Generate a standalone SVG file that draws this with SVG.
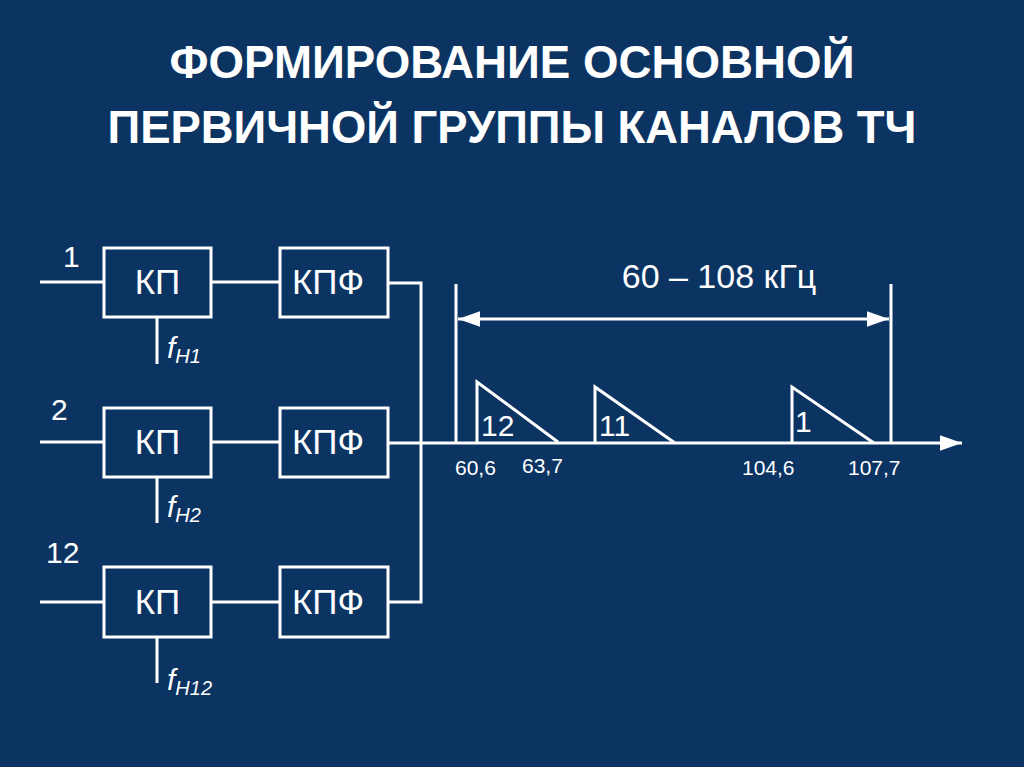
<svg xmlns="http://www.w3.org/2000/svg" width="1024" height="767" viewBox="0 0 1024 767">
<style>
.ln{stroke:#ffffff;stroke-width:3;fill:none}
.box{stroke:#ffffff;stroke-width:3;fill:none}
.t{fill:#ffffff;font-family:"Liberation Sans",Arial,sans-serif}
.title{font-weight:bold;font-size:46px}
.bl{font-size:35px;text-anchor:middle}
.num{font-size:30px}
.sm{font-size:21px}
.it{font-style:italic}
</style>
<defs>
<marker id="ah2" viewBox="0 0 10 10" refX="10" refY="5" markerWidth="22" markerHeight="22" markerUnits="userSpaceOnUse" orient="auto-start-reverse">
<path d="M0,1.5 L10,5 L0,8.5 z" fill="#ffffff"/>
</marker>
</defs>
<rect width="1024" height="767" fill="#0b3463"/>
<g id="title">
<text class="t title" x="512" y="78" text-anchor="middle" textLength="685" lengthAdjust="spacingAndGlyphs">ФОРМИРОВАНИЕ ОСНОВНОЙ</text>
<text class="t title" x="512" y="143" text-anchor="middle" textLength="809" lengthAdjust="spacingAndGlyphs">ПЕРВИЧНОЙ ГРУППЫ КАНАЛОВ ТЧ</text>
</g>
<g id="connectors">
<line class="ln" x1="40" y1="282" x2="104" y2="282"/>
<line class="ln" x1="211" y1="282" x2="280" y2="282"/>
<polyline class="ln" points="388,283 421,283 421,602 388,602"/>
<line class="ln" x1="157" y1="317" x2="157" y2="364"/>
<line class="ln" x1="40" y1="442" x2="104" y2="442"/>
<line class="ln" x1="211" y1="442" x2="280" y2="442"/>
<line class="ln" x1="157" y1="477" x2="157" y2="523"/>
<line class="ln" x1="40" y1="602" x2="104" y2="602"/>
<line class="ln" x1="211" y1="602" x2="280" y2="602"/>
<line class="ln" x1="157" y1="637" x2="157" y2="683"/>
<line class="ln" x1="388" y1="443" x2="962" y2="443" marker-end="url(#ah2)"/>
</g>
<g id="row1">
<rect class="box" x="104" y="248" width="107" height="69"/>
<text class="t bl" x="157.5" y="294">КП</text>
<rect class="box" x="280" y="248" width="108" height="69"/>
<text class="t bl" x="328" y="294">КПФ</text>
<text class="t num" x="63" y="267">1</text>
<text class="t it" x="167" y="358" font-size="30">f<tspan font-size="20" dy="5">H1</tspan></text>
</g>
<g id="row2">
<rect class="box" x="104" y="408" width="107" height="69"/>
<text class="t bl" x="157.5" y="454">КП</text>
<rect class="box" x="280" y="408" width="108" height="69"/>
<text class="t bl" x="328" y="454">КПФ</text>
<text class="t num" x="51" y="420">2</text>
<text class="t it" x="167" y="517" font-size="30">f<tspan font-size="20" dy="5">H2</tspan></text>
</g>
<g id="row3">
<rect class="box" x="104" y="567" width="107" height="70"/>
<text class="t bl" x="157.5" y="614">КП</text>
<rect class="box" x="280" y="567" width="108" height="70"/>
<text class="t bl" x="328" y="614">КПФ</text>
<text class="t num" x="46" y="563">12</text>
<text class="t it" x="167" y="690" font-size="30">f<tspan font-size="20" dy="5">H12</tspan></text>
</g>
<g id="spectrum">
<line class="ln" x1="456" y1="284" x2="456" y2="443"/>
<line class="ln" x1="891" y1="284" x2="891" y2="443"/>
<line class="ln" x1="458" y1="319" x2="889" y2="319" marker-start="url(#ah2)" marker-end="url(#ah2)"/>
<text class="t" x="719" y="288" font-size="34" text-anchor="middle">60 – 108 кГц</text>
<polyline class="ln" points="477,443 477,382 558,442"/>
<polyline class="ln" points="595,443 595,387 675,443"/>
<polyline class="ln" points="792,443 792,387 874,443"/>
<text class="t num" x="481" y="436">12</text>
<text class="t num" x="599" y="436">11</text>
<text class="t num" x="795" y="432">1</text>
<text class="t sm" x="455" y="475">60,6</text>
<text class="t sm" x="522" y="473">63,7</text>
<text class="t sm" x="742" y="475">104,6</text>
<text class="t sm" x="848" y="475">107,7</text>
</g>
</svg>
